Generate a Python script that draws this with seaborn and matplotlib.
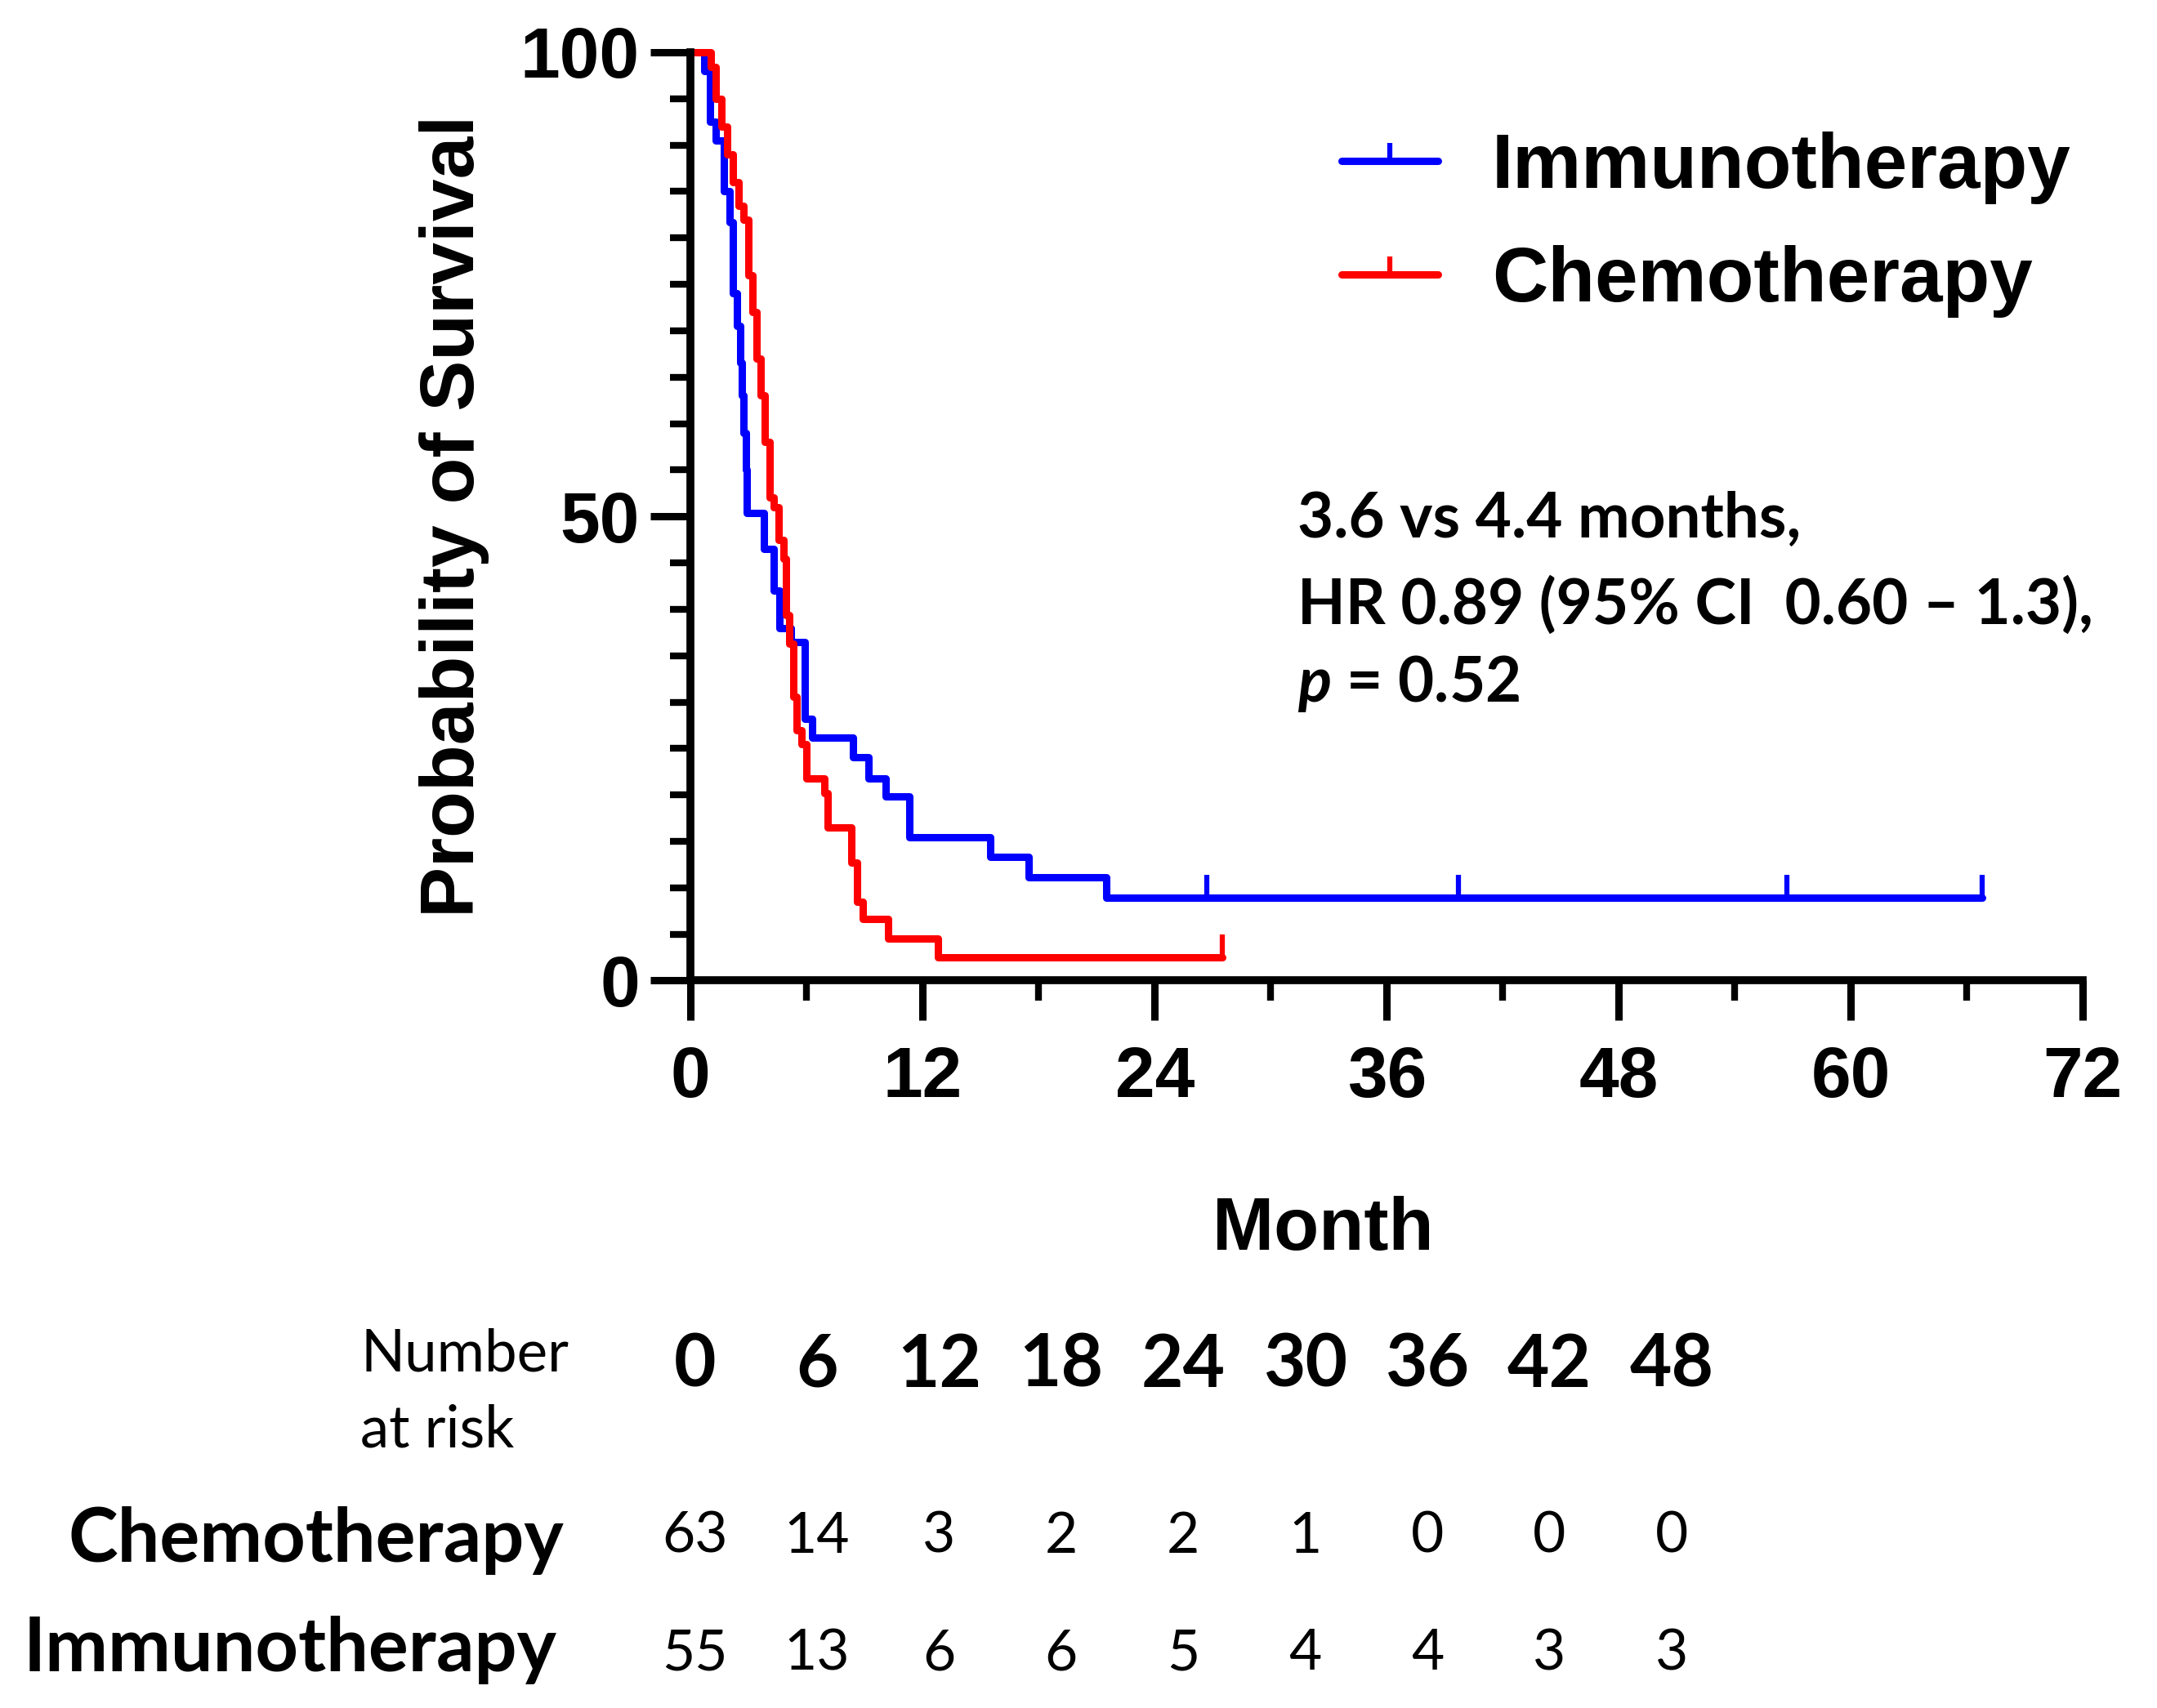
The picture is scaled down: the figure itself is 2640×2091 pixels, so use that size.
import numpy as np
import pandas as pd
import matplotlib
matplotlib.use("Agg")
import matplotlib.pyplot as plt
import seaborn as sns
from matplotlib.lines import Line2D
from matplotlib.ticker import MultipleLocator

# 生存曲线数据（从图中读取，单位：月 / %）
immuno_time = [0, 0.7, 1.0, 1.3, 1.7, 2.0, 2.2, 2.4, 2.55, 2.65, 2.75, 2.85, 2.9,
               3.8, 4.3, 4.6, 5.2, 5.9, 6.3, 8.4, 9.2, 10.1, 11.3, 15.5, 17.5, 21.5]
immuno_surv = [100, 98, 92.5, 90.5, 85, 81.7, 74, 70.5, 66.6, 63, 59, 55, 50.4,
               46.5, 42, 38, 36.5, 28.2, 26.2, 24.1, 21.8, 19.8, 15.4, 13.3, 11.1, 8.9]
immuno_end = 66.8
immuno_censor = [26.7, 39.7, 56.7, 66.8]

chemo_time = [0, 1.05, 1.3, 1.6, 1.9, 2.2, 2.5, 2.75, 3.0, 3.2, 3.4, 3.6, 3.85, 4.1, 4.3,
              4.55, 4.8, 4.95, 5.1, 5.3, 5.5, 5.75, 6.0, 6.9, 7.1, 8.3, 8.6, 8.9, 10.2, 12.8]
chemo_surv = [100, 98.4, 95, 92, 89, 86, 83.5, 82, 76, 72, 67, 63, 58, 52, 51,
              47.5, 45.4, 39.4, 36.3, 30.6, 27, 25.5, 21.8, 20.2, 16.5, 12.7, 8.5, 6.6, 4.5, 2.5]
chemo_end = 27.5
chemo_censor = [27.5]

# 风险人数表
risk_times = [0, 6, 12, 18, 24, 30, 36, 42, 48]
risk_chemo = [63, 14, 3, 2, 2, 1, 0, 0, 0]
risk_immuno = [55, 13, 6, 6, 5, 4, 4, 3, 3]

groups = ["Immunotherapy", "Chemotherapy"]
colors = {"Immunotherapy": "#0000ff", "Chemotherapy": "#ff0000"}

annot_lines = ["3.6 vs 4.4 months,", "HR 0.89 (95% CI  0.60 \u2013 1.3),", r"$\it{p}$ = 0.52"]


def km_frame(times, surv, end, name):
    t = list(times) + [end]
    s = list(surv) + [surv[-1]]
    return pd.DataFrame({"Month": t, "Survival": s, "Group": name})


def surv_at(times, surv, t):
    idx = np.searchsorted(times, t, side="right") - 1
    return np.asarray(surv)[idx]


df = pd.concat([km_frame(immuno_time, immuno_surv, immuno_end, "Immunotherapy"),
                km_frame(chemo_time, chemo_surv, chemo_end, "Chemotherapy")],
               ignore_index=True)

sns.set_style("ticks")
plt.rcParams["font.family"] = ["Liberation Sans", "DejaVu Sans"]
plt.rcParams["text.color"] = "black"
plt.rcParams["axes.labelcolor"] = "black"
plt.rcParams["axes.edgecolor"] = "black"
plt.rcParams["xtick.color"] = "black"
plt.rcParams["ytick.color"] = "black"
plt.rcParams["mathtext.fontset"] = "custom"
plt.rcParams["mathtext.it"] = "Lato:italic:bold"
plt.rcParams["mathtext.rm"] = "Lato:bold"

fig = plt.figure(figsize=(26.4, 20.91), dpi=100)
ax = fig.add_axes([0.3202, 0.4259, 0.6454, 0.5435])

sns.lineplot(data=df, x="Month", y="Survival", hue="Group", hue_order=groups,
             palette=colors, drawstyle="steps-post", estimator=None, sort=False,
             linewidth=6.5, legend=False, ax=ax)
for ln in ax.lines:
    ln.set_clip_on(False)

# 删失标记
ax.plot(immuno_censor, surv_at(immuno_time, immuno_surv, immuno_censor), ls="none",
        marker=2, ms=20, mew=4.5, color=colors["Immunotherapy"], clip_on=False)
ax.plot(chemo_censor, surv_at(chemo_time, chemo_surv, chemo_censor), ls="none",
        marker=2, ms=20, mew=4.5, color=colors["Chemotherapy"], clip_on=False)

ax.set_xlim(0, 72)
ax.set_ylim(0, 100)
ax.xaxis.set_major_locator(MultipleLocator(12))
ax.xaxis.set_minor_locator(MultipleLocator(6))
ax.yaxis.set_major_locator(MultipleLocator(50))
ax.yaxis.set_minor_locator(MultipleLocator(5))
for s in ["top", "right"]:
    ax.spines[s].set_visible(False)
for s in ["left", "bottom"]:
    ax.spines[s].set_linewidth(7)
ax.tick_params(which="major", length=35, width=6.5, direction="out", labelsize=63, color="black")
ax.tick_params(which="minor", length=18, width=6, direction="out", color="black")
ax.tick_params(axis="x", which="major", pad=22)
ax.tick_params(axis="y", which="major", pad=10)
plt.setp(ax.get_xticklabels() + ax.get_yticklabels(), fontweight="bold")

ax.set_ylabel("Probability of Survival", fontsize=67, fontweight="bold")
ax.yaxis.set_label_coords((0.2105 - 0.3202) / 0.6454, 0.5)
ax.yaxis.label.set_va("center")
ax.set_xlabel("Month", fontsize=65, fontweight="bold")
ax.xaxis.set_label_coords((0.6135 - 0.3202) / 0.6454, (0.2795 - 0.4259) / 0.5435)
ax.xaxis.label.set_va("center")

handles = [Line2D([], [], color=colors[g], lw=6.5, marker=2, ms=16, mew=4.5) for g in groups]
ax.legend(handles, groups, loc="upper left", bbox_to_anchor=(0.6218, 0.923),
          bbox_transform=fig.transFigure, frameon=False, borderpad=0, borderaxespad=0,
          handlelength=1.25, handletextpad=0.7, labelspacing=0.53,
          prop={"family": "Liberation Sans", "weight": "bold", "size": 68})

# 统计注释
for txt, y in zip(annot_lines, [0.6957, 0.6457, 0.5998]):
    fig.text(0.6014, y, txt, fontsize=55, fontweight="bold", family="Lato",
             ha="left", va="center")

# 风险人数表
col_x = [0.3221 + 0.0566 * i for i in range(len(risk_times))]
fig.text(0.1671, 0.2069, "Number", fontsize=51, family="Lato", ha="left", va="center")
fig.text(0.1671, 0.1626, "at risk", fontsize=51, family="Lato", ha="left", va="center")
for x, t in zip(col_x, risk_times):
    fig.text(x, 0.2005, str(t), fontsize=64, fontweight="bold", family="Lato",
             ha="center", va="center")
fig.text(0.2615, 0.0982, "Chemotherapy", fontsize=66, fontweight="bold", family="Lato",
         ha="right", va="center")
fig.text(0.2583, 0.0338, "Immunotherapy", fontsize=66, fontweight="bold", family="Lato",
         ha="right", va="center")
for x, n in zip(col_x, risk_chemo):
    fig.text(x, 0.1003, str(n), fontsize=50, family="Lato", ha="center", va="center")
for x, n in zip(col_x, risk_immuno):
    fig.text(x, 0.0318, str(n), fontsize=50, family="Lato", ha="center", va="center")

fig.savefig("out.png", dpi=100, facecolor="white")
